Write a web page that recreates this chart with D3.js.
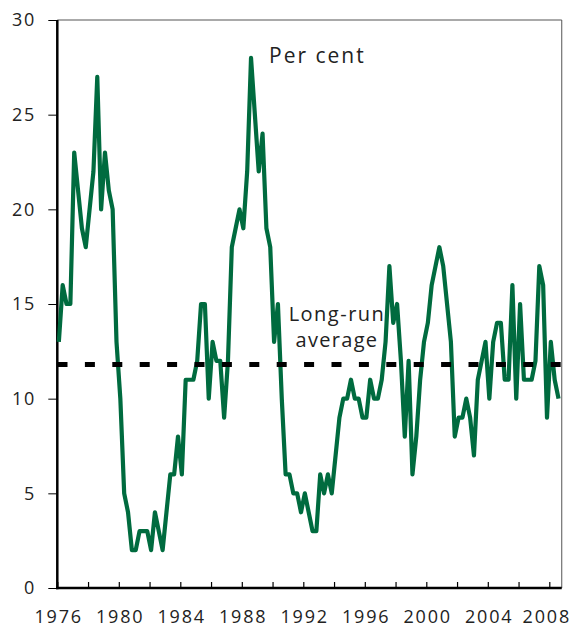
<!DOCTYPE html>
<html><head><meta charset="utf-8">
<script src="https://cdn.jsdelivr.net/npm/d3@7"></script>
<style>
body{margin:0;background:#fff}
svg text{font-family:"Open Sans",sans-serif;fill:#222}
</style>
</head><body>
<svg id="c" width="576" height="627"></svg>
<script>
// ---- data (quarterly, per cent) ----
const startYear = 1976;
const values = [
  13,16,15,15, 23,21,19,18, 20,22,27,20, 23,21,20,13,   // 1976-1979
  10,5,4,2, 2,3,3,3, 2,4,3,2, 4,6,6,8,                   // 1980-1983
  6,11,11,11, 12,15,15,10, 13,12,12,9, 12,18,19,20,      // 1984-1987
  19,22,28,25, 22,24,19,18, 13,15,10,6, 6,5,5,4,         // 1988-1991
  5,4,3,3, 6,5,6,5, 7,9,10,10, 11,10,10,9,               // 1992-1995
  9,11,10,10, 11,13,17,14, 15,12,8,12, 6,8,11,13,        // 1996-1999
  14,16,17,18, 17,15,13,8, 9,9,10,9, 7,11,12,13,         // 2000-2003
  10,13,14,14, 11,11,16,10, 15,11,11,11, 12,17,16,9,     // 2004-2007
  13,11,10                                               // 2008
];
const longRunAverage = 11.8;
const yTickValues = [0,5,10,15,20,25,30];
const xTickYears = [1976,1978,1980,1982,1984,1986,1988,1990,1992,1994,1996,1998,2000,2002,2004,2006,2008];
const xLabelYears = [1976,1980,1984,1988,1992,1996,2000,2004,2008];
const unitLabel = "Per cent";
const avgLabel = ["Long-run", "average"];

// ---- scales ----
const svg = d3.select("#c");
const x = d3.scaleLinear().domain([1976, 2008]).range([57.3, 549.3]);
const y = d3.scaleLinear().domain([0, 30]).range([588, 20]);
const xEnd = 2008.81;
const dates = values.map((v, i) => startYear + (i + 0.4) / 4);

// frame (top + right)
svg.append("path")
  .attr("d", `M${x(1976)},${y(30)}H${x(xEnd)}V${y(0)}`)
  .attr("fill", "none").attr("stroke", "#555").attr("stroke-width", 1);

// y axis
const gy = svg.append("g")
  .attr("transform", `translate(${x(1976)},0)`)
  .call(d3.axisLeft(y).tickValues(yTickValues).tickSize(9).tickPadding(14).tickSizeOuter(0));
gy.select(".domain").remove();
gy.attr("font-family", null).attr("font-size", 18);
gy.selectAll(".tick line").attr("stroke", "#000");
gy.selectAll(".tick text").style("letter-spacing", "1.8px").attr("dx", "1.8px");

// x axis
const gx = svg.append("g")
  .attr("transform", `translate(0,${y(0)})`)
  .call(d3.axisBottom(x).tickValues(xTickYears).tickSizeInner(-6).tickSizeOuter(0)
    .tickFormat(d => xLabelYears.includes(d) ? String(d) : ""));
gx.select(".domain").remove();
gx.attr("font-family", null).attr("font-size", 18);
gx.selectAll(".tick line").attr("stroke", "#000").attr("stroke-width", 1.2);
gx.selectAll(".tick text").attr("y", 34.7).attr("dy", 0)
  .style("letter-spacing", "1.8px")
  .attr("dx", d => d === 2008 ? "-3px" : "0.9px");

// axis lines
svg.append("line").attr("x1", x(1976)).attr("x2", x(1976)).attr("y1", y(30)).attr("y2", y(0) + 1.2)
  .attr("stroke", "#000").attr("stroke-width", 2.5);
svg.append("line").attr("x1", x(1976) - 1.2).attr("x2", x(xEnd)).attr("y1", y(0)).attr("y2", y(0))
  .attr("stroke", "#000").attr("stroke-width", 2.3);

// series line
const line = d3.line().x((d, i) => x(dates[i])).y(d => y(d));
svg.append("path").datum(values)
  .attr("d", line)
  .attr("fill", "none").attr("stroke", "#006B3F").attr("stroke-width", 4.2)
  .attr("stroke-linejoin", "round").attr("stroke-linecap", "butt");

// long-run average
svg.append("line")
  .attr("x1", x(1976) + 0.2).attr("x2", x(xEnd))
  .attr("y1", y(longRunAverage)).attr("y2", y(longRunAverage))
  .attr("stroke", "#000").attr("stroke-width", 5)
  .attr("stroke-dasharray", "10,17.4");

// labels
svg.append("text").attr("x", 269).attr("y", 62.5)
  .attr("font-size", 21).style("letter-spacing", "2px").text(unitLabel);
svg.append("text").attr("x", 337).attr("y", 320.7).attr("text-anchor", "middle")
  .attr("font-size", 20).style("letter-spacing", "1.5px").text(avgLabel[0]);
svg.append("text").attr("x", 337).attr("y", 346.7).attr("text-anchor", "middle")
  .attr("font-size", 20).style("letter-spacing", "1.3px").text(avgLabel[1]);
</script>
</body></html>
